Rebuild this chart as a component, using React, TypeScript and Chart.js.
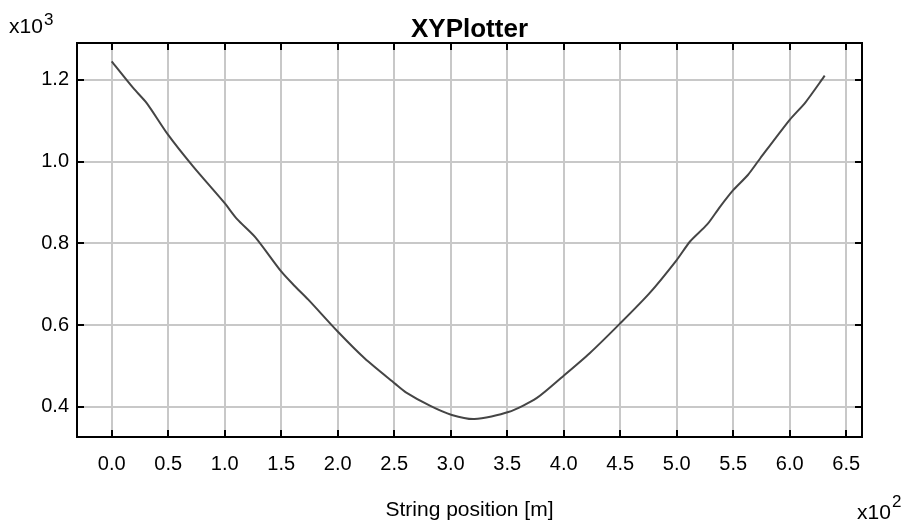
import React, { useEffect, useRef } from 'react';
import { Chart, registerables } from 'chart.js';

Chart.register(...registerables);

// String position in metres
const positions = [0, 19, 31, 50, 72, 100, 111, 127, 150, 161, 174, 200, 224, 251, 260, 282, 301, 321, 351, 376, 400, 423, 450, 476, 500, 512, 527, 538, 550, 563, 574, 600, 614, 631];
// Value along the string
const values = [1245, 1180, 1143, 1065, 988, 898, 859, 815, 731, 698, 662, 584, 518, 456, 436, 402, 380, 370, 387, 421, 476, 531, 604, 678, 759, 805, 846, 888, 930, 967, 1008, 1102, 1145, 1210];

const xTickValues = [0, 50, 100, 150, 200, 250, 300, 350, 400, 450, 500, 550, 600, 650];
const xTickLabels = ['0.0', '0.5', '1.0', '1.5', '2.0', '2.5', '3.0', '3.5', '4.0', '4.5', '5.0', '5.5', '6.0', '6.5'];
const yTickValues = [400, 600, 800, 1000, 1200];
const yTickLabels = ['0.4', '0.6', '0.8', '1.0', '1.2'];

const chartTitle = 'XYPlotter';
const xAxisTitle = 'String position [m]';
const xExponent = '2';
const yExponent = '3';

const FONT = '"Liberation Sans", Arial, Helvetica, sans-serif';

const framePlugin = {
  id: 'frame',
  afterDraw(chart: any) {
    const { ctx, chartArea } = chart;
    const { left, right, top, bottom } = chartArea;
    const xs = chart.scales.x;
    const ys = chart.scales.y;
    ctx.save();
    ctx.strokeStyle = '#000';
    ctx.lineWidth = 2;
    ctx.strokeRect(left, top, right - left, bottom - top);
    const tl = 7;
    ctx.beginPath();
    xTickValues.forEach((v) => {
      const px = Math.round(xs.getPixelForValue(v));
      ctx.moveTo(px, bottom);
      ctx.lineTo(px, bottom - tl);
      ctx.moveTo(px, top);
      ctx.lineTo(px, top + tl);
    });
    yTickValues.forEach((v) => {
      const py = Math.round(ys.getPixelForValue(v));
      ctx.moveTo(left, py);
      ctx.lineTo(left + tl, py);
      ctx.moveTo(right, py);
      ctx.lineTo(right - tl, py);
    });
    ctx.stroke();

    ctx.fillStyle = '#000';
    ctx.textBaseline = 'alphabetic';
    ctx.textAlign = 'center';
    ctx.font = `bold 26px ${FONT}`;
    ctx.fillText(chartTitle, (left + right) / 2, 37);

    ctx.textAlign = 'left';
    ctx.font = `21px ${FONT}`;
    ctx.fillText('x10', 9, 33);
    ctx.font = `17px ${FONT}`;
    ctx.fillText(yExponent, 44, 25);

    ctx.font = `21px ${FONT}`;
    ctx.fillText('x10', 857, 519);
    ctx.font = `17px ${FONT}`;
    ctx.fillText(xExponent, 892, 507);
    ctx.restore();
  },
};

export default function App() {
  const ref = useRef<HTMLCanvasElement | null>(null);

  useEffect(() => {
    document.body.style.margin = '0';
    const canvas = ref.current;
    if (!canvas) return;
    const chart = new Chart(canvas, {
      type: 'line',
      data: {
        datasets: [
          {
            data: positions.map((p, i) => ({ x: p, y: values[i] })),
            borderColor: '#454545',
            borderWidth: 2,
            pointRadius: 0,
            tension: 0.25,
            fill: false,
          },
        ],
      },
      options: {
        animation: false,
        responsive: true,
        maintainAspectRatio: false,
        layout: { padding: { top: 43, left: 0, right: 41, bottom: 0 } },
        plugins: {
          legend: { display: false },
          title: { display: false },
          tooltip: { enabled: false },
        },
        scales: {
          x: {
            type: 'linear',
            min: -30.7,
            max: 664,
            afterBuildTicks: (scale: any) => {
              scale.ticks = xTickValues.map((v) => ({ value: v }));
            },
            afterFit: (scale: any) => {
              scale.height = 89;
            },
            grid: { color: '#c8c8c8', lineWidth: 2, drawTicks: false },
            border: { display: false },
            ticks: {
              autoSkip: false,
              maxRotation: 0,
              padding: 15,
              color: '#000',
              font: { family: FONT, size: 20 },
              callback: (_v: any, i: number) => xTickLabels[i],
            },
            title: {
              display: true,
              text: xAxisTitle,
              color: '#000',
              font: { family: FONT, size: 21 },
              padding: { top: 0, bottom: 3 },
            },
          },
          y: {
            type: 'linear',
            min: 326,
            max: 1290,
            afterBuildTicks: (scale: any) => {
              scale.ticks = yTickValues.map((v) => ({ value: v }));
            },
            afterFit: (scale: any) => {
              scale.width = 77;
            },
            grid: { color: '#c8c8c8', lineWidth: 2, drawTicks: false },
            border: { display: false },
            ticks: {
              autoSkip: false,
              padding: 8,
              color: '#000',
              font: { family: FONT, size: 20 },
              callback: (_v: any, i: number) => yTickLabels[i],
            },
          },
        },
      },
      plugins: [framePlugin],
    } as any);
    return () => chart.destroy();
  }, []);

  return (
    <div style={{ width: 903, height: 526, position: 'relative' }}>
      <canvas ref={ref} />
    </div>
  );
}
